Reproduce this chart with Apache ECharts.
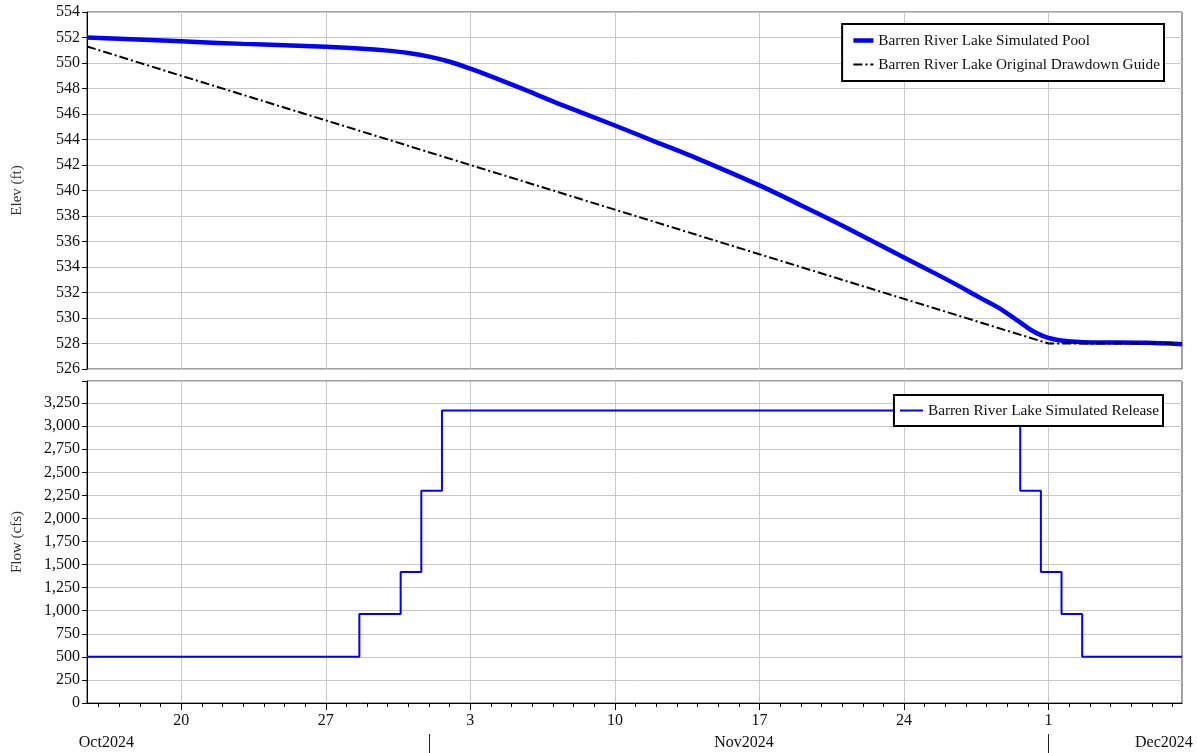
<!DOCTYPE html>
<html>
<head>
<meta charset="utf-8">
<script src="https://cdn.jsdelivr.net/npm/echarts@6/dist/echarts.min.js"></script>
<style>
html,body{margin:0;padding:0;background:#fff;}
#chart{width:1197px;height:753px;}
</style>
</head>
<body>
<div id="chart"></div>
<script>
// ---------------- data ----------------
const poolDates = ['2024-10-15 10:30','2024-10-17 00:00','2024-10-20 00:00','2024-10-23 00:00','2024-10-25 00:00','2024-10-27 00:00','2024-10-29 00:00','2024-10-30 00:00','2024-10-31 00:00','2024-11-01 00:00','2024-11-02 00:00','2024-11-03 00:00','2024-11-04 00:00','2024-11-05 10:00','2024-11-07 07:00','2024-11-10 00:00','2024-11-12 00:00','2024-11-14 00:00','2024-11-17 00:00','2024-11-19 00:00','2024-11-21 00:00','2024-11-22 12:00','2024-11-24 00:00','2024-11-25 12:00','2024-11-26 16:00','2024-11-27 16:00','2024-11-28 14:00','2024-11-29 12:00','2024-11-30 05:00','2024-11-30 17:00','2024-12-01 05:00','2024-12-01 17:00','2024-12-02 12:00','2024-12-03 10:00','2024-12-05 18:00','2024-12-07 11:00'];
const poolElev = [552.0,551.9,551.7,551.5,551.4,551.27,551.1,550.97,550.78,550.5,550.1,549.55,548.95,548.05,546.8,545.1,543.8,542.5,540.4,538.85,537.25,536.0,534.75,533.5,532.5,531.6,530.8,529.8,529.0,528.6,528.35,528.22,528.12,528.08,528.05,527.95];

const guideDates = ['2024-10-15 10:30','2024-10-20 00:00','2024-10-27 00:00','2024-11-03 00:00','2024-11-10 00:00','2024-11-17 00:00','2024-11-24 00:00','2024-12-01 00:00','2024-12-07 11:00'];
const guideElev = [551.3,549.0,545.5,542.0,538.5,535.0,531.5,528.0,528.0];

const releaseDates = ['2024-10-15 10:30','2024-10-28 15:00','2024-10-30 15:00','2024-10-31 15:00','2024-11-01 15:00','2024-11-29 15:00','2024-11-30 15:00','2024-12-01 15:00','2024-12-02 15:00','2024-12-07 11:00'];
const releaseFlow = [500,965,1420,2300,3170,2300,1420,965,500,500];

const weekTicks = ['2024-10-20','2024-10-27','2024-11-03','2024-11-10','2024-11-17','2024-11-24','2024-12-01'];
const monthSeparators = ['2024-11-01','2024-12-01'];
const monthLabelNames = ['Oct2024','Nov2024','Dec2024'];
const monthLabelAt = ['2024-10-16 09:00','2024-11-16 06:00','2024-12-06 14:00'];

const xStart = '2024-10-15 10:30';
const xEnd = '2024-12-07 11:00';
// ---------------------------------------

function t(s){
  const p = s.split(' ');
  const d = p[0].split('-').map(Number);
  let hh = 0, mm = 0;
  if (p[1]) { const h = p[1].split(':').map(Number); hh = h[0]; mm = h[1]; }
  return Date.UTC(d[0], d[1]-1, d[2], hh, mm);
}
const DAY = 86400000;
const xMin = t(xStart), xMax = t(xEnd);
const dailyTicks = [];
for (let v = t('2024-10-16'); v <= xMax; v += DAY) dailyTicks.push(v);
const weekVals = weekTicks.map(t);
const sepVals = monthSeparators.map(t);
const monthVals = monthLabelAt.map(t);

const FONT = 'Liberation Serif';
const gridColor = '#c8c8c8';
const labelStyle = {fontFamily: FONT, fontSize: 16, color: '#111'};

const chart = echarts.init(document.getElementById('chart'), null, {renderer: 'canvas'});

const option = {
  animation: false,
  backgroundColor: '#fff',
  grid: [
    {left: 87, right: 15, top: 12, height: 357, show: true, borderColor: '#444', borderWidth: 1, backgroundColor: 'transparent'},
    {left: 87, right: 15, top: 381, height: 322, show: true, borderColor: '#444', borderWidth: 1, backgroundColor: 'transparent'}
  ],
  legend: [
    {
      data: ['Barren River Lake Simulated Pool', 'Barren River Lake Original Drawdown Guide'],
      orient: 'vertical', right: 33, top: 24,
      padding: [9, 4, 9, 9],
      itemWidth: 20, itemHeight: 14, itemGap: 9,
      itemStyle: {opacity: 0},
      lineStyle: {width: 'inherit'},
      borderColor: '#000', borderWidth: 2, backgroundColor: '#fff',
      textStyle: {fontFamily: FONT, fontSize: 15.3, color: '#111'},
      selectedMode: false
    },
    {
      data: ['Barren River Lake Simulated Release'],
      orient: 'vertical', right: 34, top: 395,
      padding: [8, 4, 8, 5],
      itemWidth: 23, itemHeight: 14,
      itemStyle: {opacity: 0},
      lineStyle: {width: 'inherit'},
      borderColor: '#000', borderWidth: 2, backgroundColor: '#fff',
      textStyle: {fontFamily: FONT, fontSize: 15.3, color: '#111'},
      selectedMode: false
    }
  ],
  xAxis: [
    { // top panel
      type: 'value', gridIndex: 0, min: xMin, max: xMax,
      axisLine: {show: false},
      axisTick: {show: false, customValues: weekVals},
      axisLabel: {show: false},
      splitLine: {show: true, lineStyle: {color: gridColor, width: 1}}
    },
    { // bottom panel weekly
      type: 'value', gridIndex: 1, min: xMin, max: xMax, position: 'bottom',
      axisLine: {show: true, lineStyle: {color: '#000', width: 1}},
      axisTick: {show: true, customValues: weekVals, length: 7, lineStyle: {color: '#000', width: 1}},
      axisLabel: {show: true, customValues: weekVals, margin: 10, ...labelStyle,
        formatter: v => String(new Date(v).getUTCDate())},
      splitLine: {show: true, lineStyle: {color: gridColor, width: 1}}
    },
    { // daily minor ticks
      type: 'value', gridIndex: 1, min: xMin, max: xMax, position: 'bottom',
      axisLine: {show: false},
      axisTick: {show: true, customValues: dailyTicks, length: 4, lineStyle: {color: '#000', width: 1}},
      axisLabel: {show: false},
      splitLine: {show: false}
    },
    { // month row
      type: 'value', gridIndex: 1, min: xMin, max: xMax, position: 'bottom', offset: 31,
      axisLine: {show: false},
      axisTick: {show: true, customValues: sepVals, length: 22, lineStyle: {color: '#222', width: 1}},
      axisLabel: {show: true, customValues: monthVals, margin: 1, ...labelStyle,
        formatter: v => monthLabelNames[monthVals.indexOf(v)] || ''},
      splitLine: {show: false}
    }
  ],
  yAxis: [
    {
      type: 'value', gridIndex: 0, min: 526, max: 554, interval: 2,
      name: 'Elev (ft)', nameLocation: 'middle', nameGap: 62,
      nameTextStyle: {fontFamily: FONT, fontSize: 15, color: '#333'},
      axisLine: {show: true, lineStyle: {color: '#000', width: 1}},
      axisTick: {show: true, length: 5, lineStyle: {color: '#000'}},
      axisLabel: {margin: 7, ...labelStyle},
      splitLine: {show: true, lineStyle: {color: gridColor, width: 1}}
    },
    {
      type: 'value', gridIndex: 1, min: 0, max: 3490, interval: 250,
      name: 'Flow (cfs)', nameLocation: 'middle', nameGap: 62,
      nameTextStyle: {fontFamily: FONT, fontSize: 15, color: '#333'},
      axisLine: {show: true, lineStyle: {color: '#000', width: 1}},
      axisTick: {show: true, length: 5, lineStyle: {color: '#000'}},
      axisLabel: {margin: 7, ...labelStyle,
        formatter: v => (v % 250 === 0 ? v.toLocaleString('en-US') : '')},
      splitLine: {show: true, lineStyle: {color: gridColor, width: 1}}
    }
  ],
  series: [
    {
      name: 'Barren River Lake Original Drawdown Guide', type: 'line',
      xAxisIndex: 0, yAxisIndex: 0, symbol: 'none',
      data: guideDates.map((d, i) => [t(d), guideElev[i]]),
      lineStyle: {color: '#000', width: 2, type: [9, 3, 2, 3]},
      itemStyle: {color: '#000'}, z: 3
    },
    {
      name: 'Barren River Lake Simulated Pool', type: 'line',
      xAxisIndex: 0, yAxisIndex: 0, symbol: 'none', smooth: 0.3,
      data: poolDates.map((d, i) => [t(d), poolElev[i]]),
      lineStyle: {color: '#0000ff', width: 4.5},
      itemStyle: {color: '#0000ff'}, z: 2
    },
    {
      name: 'Barren River Lake Simulated Release', type: 'line',
      xAxisIndex: 1, yAxisIndex: 1, symbol: 'none', step: 'end',
      data: releaseDates.map((d, i) => [t(d), releaseFlow[i]]),
      lineStyle: {color: '#0000ff', width: 2},
      itemStyle: {color: '#0000ff'}, z: 2
    }
  ]
};
chart.setOption(option);
</script>
</body>
</html>
